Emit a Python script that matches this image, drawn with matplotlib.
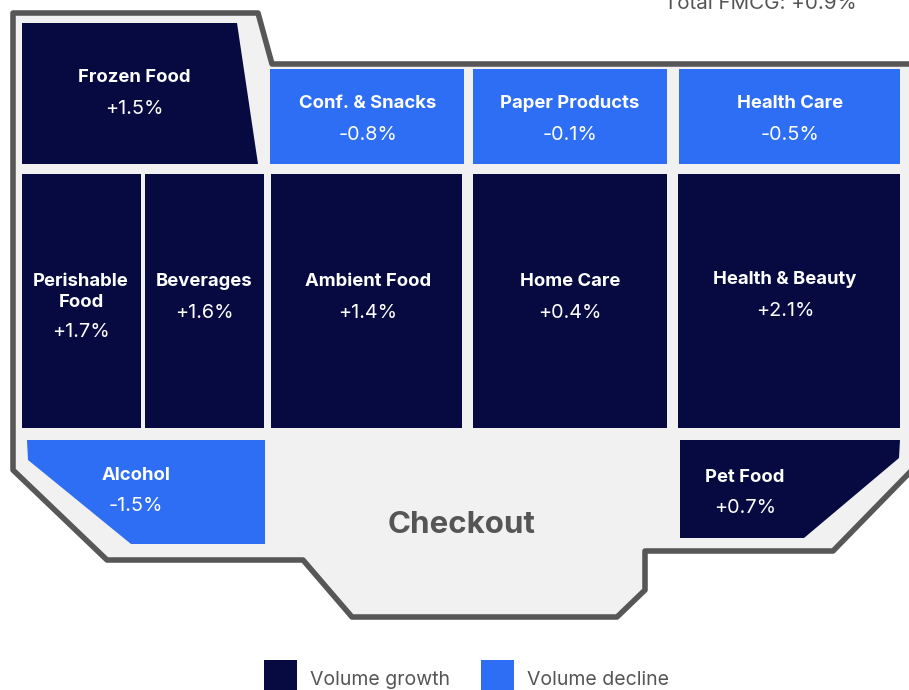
import matplotlib.pyplot as plt
from matplotlib.patches import Polygon, Rectangle

plt.rcParams['font.family'] = ['Inter', 'DejaVu Sans']

# Category data
categories = ["Frozen Food", "Conf. & Snacks", "Paper Products", "Health Care",
              "Perishable\nFood", "Beverages", "Ambient Food", "Home Care",
              "Health & Beauty", "Alcohol", "Pet Food"]
changes = [1.5, -0.8, -0.1, -0.5, 1.7, 1.6, 1.4, 0.4, 2.1, -1.5, 0.7]
total_label = "Total FMCG"
total_change = 0.9
legend_labels = ["Volume growth", "Volume decline"]

GROWTH = "#060a40"
DECLINE = "#2d6ef4"
FLOOR = "#f1f1f1"
WALL = "#575757"
GREY_TEXT = "#555555"

# Floor plan layout (pixel space): shape outline and label anchor per aisle
shapes = {
    "Frozen Food": [(22, 23), (237, 23), (258, 164), (22, 164)],
    "Conf. & Snacks": [(270, 69), (464, 69), (464, 164), (270, 164)],
    "Paper Products": [(473, 69), (667, 69), (667, 164), (473, 164)],
    "Health Care": [(679, 69), (900, 69), (900, 164), (679, 164)],
    "Perishable\nFood": [(22, 174), (141, 174), (141, 428), (22, 428)],
    "Beverages": [(145, 174), (264, 174), (264, 428), (145, 428)],
    "Ambient Food": [(271, 174), (462, 174), (462, 428), (271, 428)],
    "Home Care": [(473, 174), (667, 174), (667, 428), (473, 428)],
    "Health & Beauty": [(678, 174), (900, 174), (900, 428), (678, 428)],
    "Alcohol": [(27, 440), (265, 440), (265, 544), (131, 544), (28, 460)],
    "Pet Food": [(680, 440), (900, 440), (899, 458), (804, 538), (680, 538)],
}
anchors = {
    "Frozen Food": (134, 78),
    "Conf. & Snacks": (368, 104),
    "Paper Products": (570, 104),
    "Health Care": (790, 104),
    "Perishable\nFood": (81, 292),
    "Beverages": (204, 282),
    "Ambient Food": (368, 282),
    "Home Care": (570, 282),
    "Health & Beauty": (785, 280),
    "Alcohol": (136, 475),
    "Pet Food": (745, 477),
}
outline = [(13, 13), (258, 13), (272, 64), (915, 64), (915, 467), (833, 551),
           (645, 551), (645, 590), (617, 617), (352, 617), (303, 560),
           (107, 560), (13, 470)]

fig = plt.figure(figsize=(9.09, 6.90), dpi=100)
ax = fig.add_axes([0, 0, 1, 1])
ax.set_xlim(0, 909)
ax.set_ylim(690, 0)
ax.axis("off")

ax.add_patch(Polygon(outline, closed=True, facecolor=FLOOR, edgecolor=WALL,
                     linewidth=4.0, joinstyle="round"))

for name, val in zip(categories, changes):
    color = GROWTH if val >= 0 else DECLINE
    ax.add_patch(Polygon(shapes[name], closed=True, facecolor=color,
                         edgecolor="none"))
    x, y = anchors[name]
    ax.text(x, y, name, ha="center", va="center", color="white",
            fontsize=13.3, fontweight="bold", linespacing=1.35)
    nlines = name.count("\n")
    ax.text(x, y + 31 + nlines * 9, f"{val:+.1f}%", ha="center", va="center",
            color="white", fontsize=14.3)

ax.text(462, 525, "Checkout", ha="center", va="center", color=GREY_TEXT,
        fontsize=22.5, fontweight="bold")

ax.text(857, 4, f"{total_label}: {total_change:+.1f}%", ha="right",
        va="center", color=GREY_TEXT, fontsize=14.8)

# Legend
for i, (lab, col) in enumerate(zip(legend_labels, [GROWTH, DECLINE])):
    x0 = 264 + i * 217
    ax.add_patch(Rectangle((x0, 660), 33, 30, facecolor=col, edgecolor="none"))
    ax.text(x0 + 46, 680, lab, ha="left", va="center", color=GREY_TEXT,
            fontsize=14)

fig.savefig("out.png", dpi=100)
